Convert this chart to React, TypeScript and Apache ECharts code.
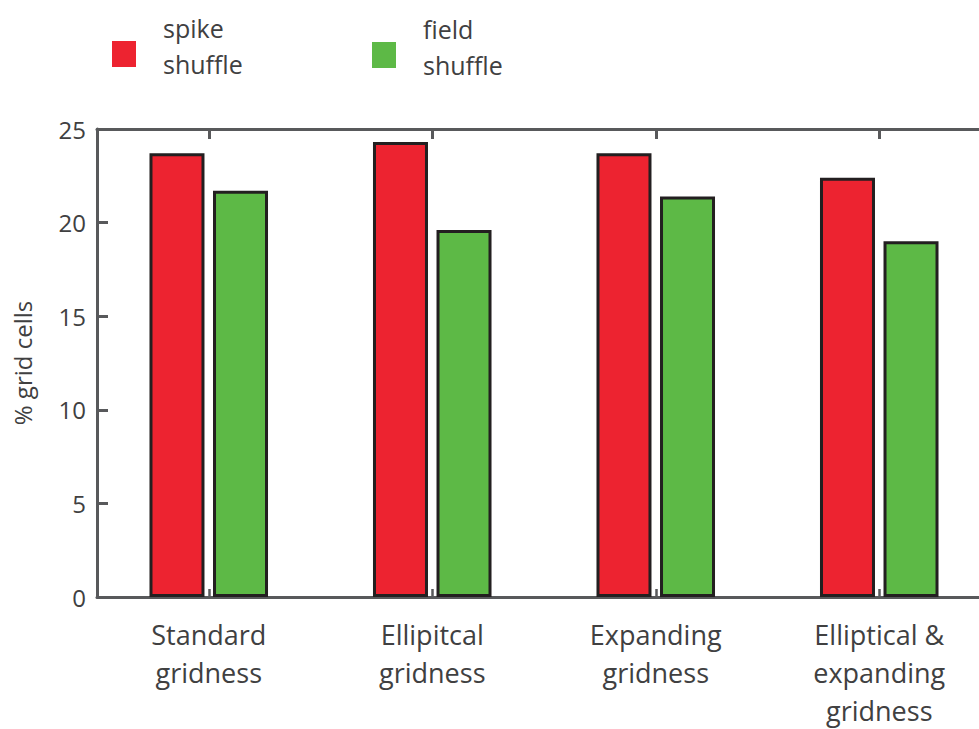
import React, { useEffect, useRef } from "react";
import * as echarts from "echarts";

const categories = [
  "Standard\ngridness",
  "Ellipitcal\ngridness",
  "Expanding\ngridness",
  "Elliptical &\nexpanding\ngridness",
];
const seriesNames = ["spike shuffle", "field shuffle"];
const spikeShuffle = [23.7, 24.3, 23.7, 22.4];
const fieldShuffle = [21.7, 19.6, 21.4, 19.0];
const yMin = 0;
const yMax = 25;
const yInterval = 5;

const FONT = "Open Sans";
const TEXT = "#404041";
const AXIS = "#58595b";
const RED = "#ed2330";
const GREEN = "#5db946";
const EDGE = "#231f20";

export default function App() {
  const ref = useRef<HTMLDivElement>(null);
  useEffect(() => {
    if (!ref.current) return;
    const chart = echarts.init(ref.current, null, { renderer: "svg" });
    const legendBase = {
      orient: "horizontal",
      padding: 0,
      itemWidth: 24,
      itemHeight: 26,
      icon: "rect",
      itemStyle: { borderWidth: 0 },
      formatter: (n: string) => {
        const [a, b] = n.split(" ");
        return `{t|${a}}\n{t|${b}}\n{s| }`;
      },
      textStyle: {
        color: TEXT,
        fontFamily: FONT,
        padding: [0, 0, 0, 22],
        rich: {
          t: { fontSize: 25, lineHeight: 36, color: TEXT, fontFamily: FONT },
          s: { fontSize: 4, lineHeight: 17 },
        },
      },
    };
    chart.setOption({
      animation: false,
      textStyle: { fontFamily: FONT },
      legend: [
        { ...legendBase, data: [seriesNames[0]], left: 112, top: 15 },
        { ...legendBase, data: [seriesNames[1]], left: 372, top: 16 },
      ],
      grid: { left: 97, top: 129, bottom: 131, right: 0, containLabel: false },
      xAxis: [
        {
          type: "category",
          data: categories,
          position: "bottom",
          axisLine: { show: true, lineStyle: { color: AXIS, width: 3 } },
          axisTick: {
            show: true,
            inside: true,
            alignWithLabel: true,
            length: 8,
            lineStyle: { color: AXIS, width: 2.5 },
          },
          axisLabel: {
            fontSize: 27,
            lineHeight: 38,
            margin: 18,
            color: TEXT,
            fontFamily: FONT,
            interval: 0,
          },
        },
        {
          type: "category",
          data: categories,
          position: "top",
          axisLine: { show: true, lineStyle: { color: AXIS, width: 3 } },
          axisTick: {
            show: true,
            inside: true,
            alignWithLabel: true,
            length: 10,
            lineStyle: { color: AXIS, width: 3 },
          },
          axisLabel: { show: false },
        },
      ],
      yAxis: {
        type: "value",
        min: yMin,
        max: yMax,
        interval: yInterval,
        axisLine: { show: true, lineStyle: { color: AXIS, width: 3 } },
        axisTick: {
          show: true,
          inside: true,
          length: 11,
          lineStyle: { color: AXIS, width: 3 },
        },
        splitLine: { show: false },
        axisLabel: { fontSize: 24, margin: 11, color: TEXT, fontFamily: FONT },
        name: "% grid cells",
        nameLocation: "middle",
        nameGap: 63,
        nameTextStyle: { fontSize: 24, color: TEXT, fontFamily: FONT },
      },
      series: [
        {
          name: seriesNames[0],
          type: "bar",
          data: spikeShuffle,
          barWidth: 55,
          barGap: "15.5%",
          itemStyle: { color: RED, borderColor: EDGE, borderWidth: 3 },
        },
        {
          name: seriesNames[1],
          type: "bar",
          data: fieldShuffle,
          barWidth: 55,
          barGap: "15.5%",
          itemStyle: { color: GREEN, borderColor: EDGE, borderWidth: 3 },
        },
      ],
    });
    return () => chart.dispose();
  }, []);
  return (
    <div
      ref={ref}
      style={{ position: "fixed", left: 0, top: 0, width: 991, height: 729, background: "#fff" }}
    />
  );
}
